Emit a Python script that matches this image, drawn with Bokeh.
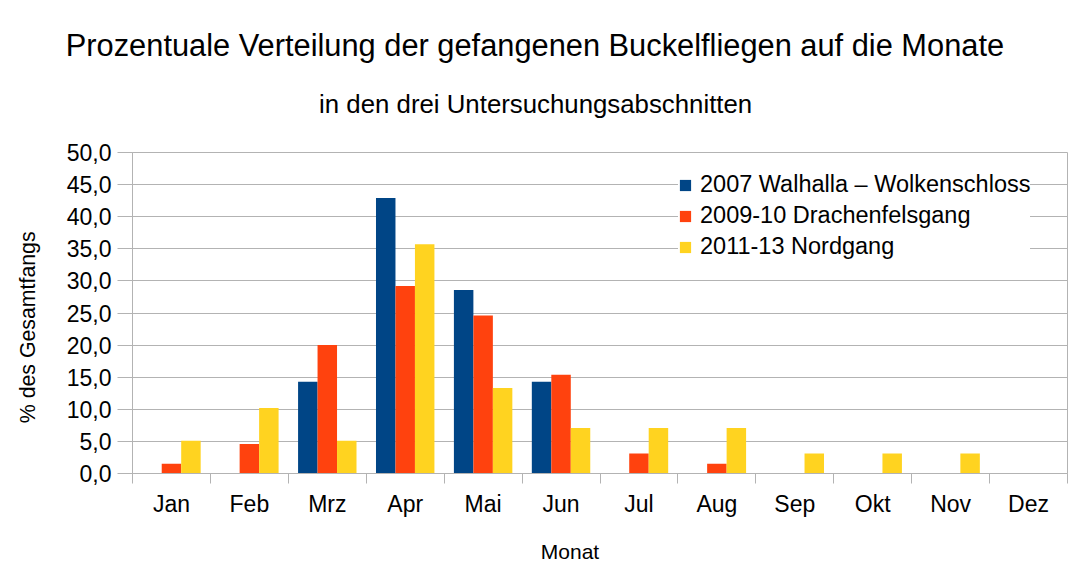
from bokeh.plotting import figure
from bokeh.models import (ColumnDataSource, FixedTicker, Legend, LegendItem, Range1d, Title)
from bokeh.embed import file_html
from bokeh.resources import INLINE

months = ["Jan", "Feb", "Mrz", "Apr", "Mai", "Jun", "Jul", "Aug", "Sep", "Okt", "Nov", "Dez"]
walhalla = [0, 0, 14.3, 42.9, 28.6, 14.3, 0, 0, 0, 0, 0, 0]
drachenfels = [1.5, 4.6, 20.0, 29.2, 24.6, 15.4, 3.1, 1.5, 0, 0, 0, 0]
nordgang = [5.1, 10.2, 5.1, 35.7, 13.3, 7.1, 7.1, 7.1, 3.1, 3.1, 3.1, 0]
series_names = ["2007 Walhalla \u2013 Wolkenschloss", "2009-10 Drachenfelsgang", "2011-13 Nordgang"]
colors = ["#004586", "#ff420e", "#ffd320"]
y_ticks = list(range(0, 55, 5))

FONT = "Liberation Sans"
GRID = "#b3b3b3"

W, H = 1072, 568
p = figure(width=W, height=H, output_backend="svg", toolbar_location=None,
           title=None, x_range=Range1d(0, len(months)), y_range=Range1d(0, 50),
           min_border_left=132, min_border_right=5, min_border_top=152, min_border_bottom=95)
p.background_fill_color = "white"
p.border_fill_color = "white"
p.outline_line_color = GRID
p.outline_line_width = 1

centers = [i + 0.5 for i in range(len(months))]
offsets = [-0.25, 0.0, 0.25]
renderers = []
for vals, off, col in zip([walhalla, drachenfels, nordgang], offsets, colors):
    src = ColumnDataSource(dict(x=[c + off for c in centers], top=vals))
    r = p.vbar(x="x", top="top", width=0.25, bottom=0, source=src,
               fill_color=col, line_color=None)
    renderers.append(r)

# x axis: separators at month boundaries, labels at centers
xax = p.xaxis[0]
xax.ticker = FixedTicker(ticks=centers, minor_ticks=list(range(len(months) + 1)))
xax.major_label_overrides = {c: m for c, m in zip(centers, months)}
xax.major_tick_out = 0
xax.major_tick_in = 0
xax.minor_tick_out = 10
xax.minor_tick_in = 0
xax.minor_tick_line_color = GRID
xax.axis_line_color = GRID
xax.major_label_text_font = FONT
xax.major_label_text_font_size = "23px"
xax.major_label_text_color = "black"
xax.major_label_standoff = 7

yax = p.yaxis[0]
yax.ticker = FixedTicker(ticks=y_ticks)
yax.major_label_overrides = {v: f"{v:.1f}".replace(".", ",") for v in y_ticks}
yax.major_tick_out = 15
yax.major_tick_in = 0
yax.minor_tick_line_color = None
yax.major_tick_line_color = GRID
yax.axis_line_color = GRID
yax.major_label_text_font = FONT
yax.major_label_text_font_size = "23px"
yax.major_label_text_color = "black"
yax.major_label_standoff = 6

p.xgrid.grid_line_color = None
p.ygrid.grid_line_color = GRID
p.ygrid.grid_line_width = 1

legend = Legend(items=[LegendItem(label=n, renderers=[r]) for n, r in zip(series_names, renderers)],
                location=(546, 213), orientation="vertical")
legend.label_text_font = FONT
legend.label_text_font_size = "23.5px"
legend.label_text_color = "black"
legend.glyph_width = 14
legend.glyph_height = 14
legend.label_standoff = 8
legend.spacing = 4
legend.padding = 10
legend.margin = 0
legend.border_line_color = None
legend.background_fill_color = "white"
legend.background_fill_alpha = 1.0
p.add_layout(legend)

# titles (subtitle first = closest to the frame)
p.add_layout(Title(text="in den drei Untersuchungsabschnitten", align="left", offset=186.6,
                   text_font=FONT, text_font_size="25.8px", text_font_style="normal",
                   text_color="black", standoff=70), "above")
p.add_layout(Title(text="Prozentuale Verteilung der gefangenen Buckelfliegen auf die Monate",
                   align="left", offset=-66.7,
                   text_font=FONT, text_font_size="30.8px", text_font_style="normal",
                   text_color="black", standoff=-20), "above")
# spacer between the x axis and its label
p.add_layout(Title(text=" ", text_font_size="1px", standoff=14.5), "below")
p.add_layout(Title(text="Monat", align="left", offset=408.3,
                   text_font=FONT, text_font_size="21px", text_font_style="normal",
                   text_color="black", standoff=0), "below")
# spacer between the y axis and its label
p.add_layout(Title(text=" ", text_font_size="1px", standoff=21), "left")
p.add_layout(Title(text="% des Gesamtfangs", align="left", offset=50.3,
                   text_font=FONT, text_font_size="21.3px", text_font_style="normal",
                   text_color="black", standoff=0), "left")

open("out.html", "w").write(file_html(p, INLINE))
